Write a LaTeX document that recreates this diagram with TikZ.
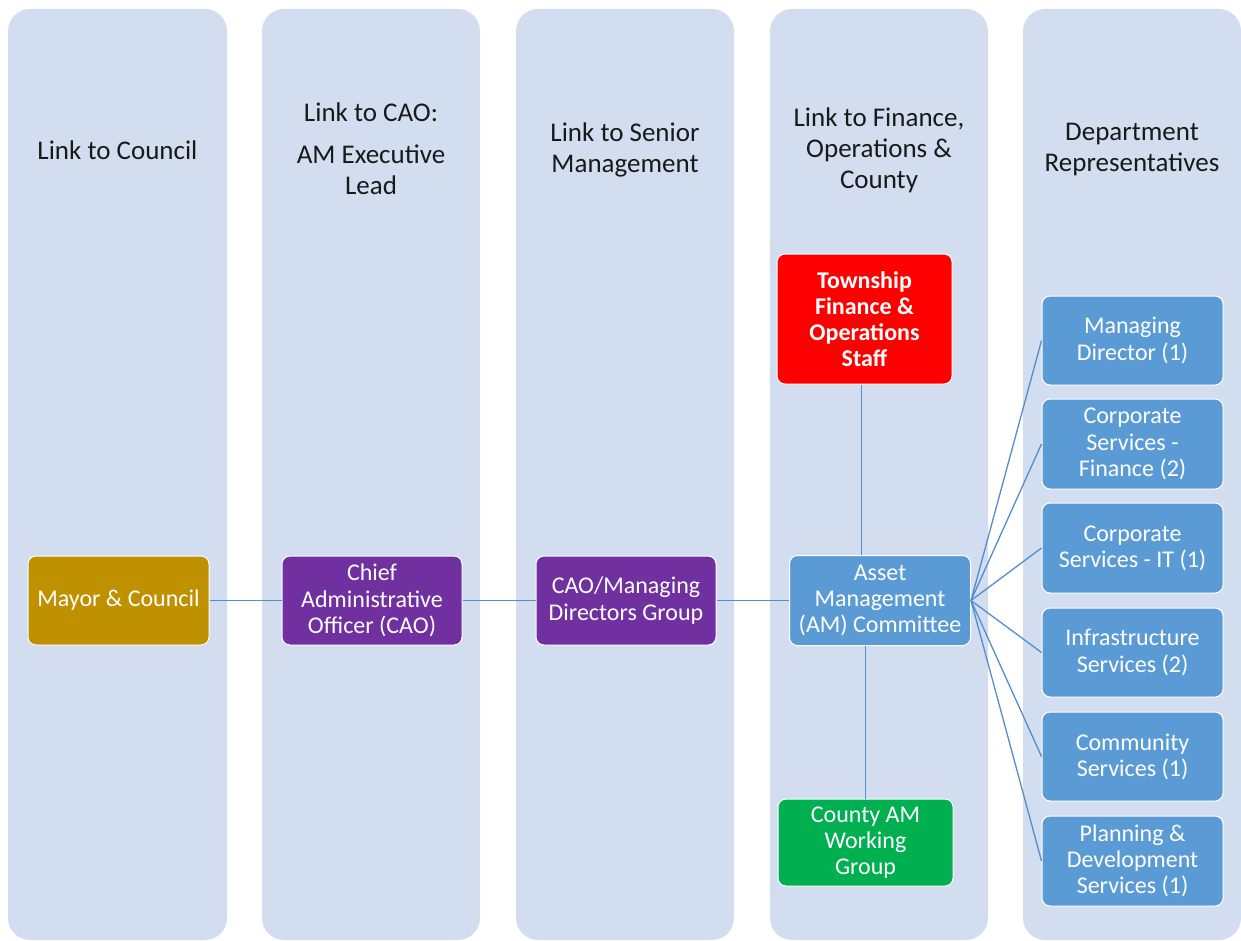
\documentclass[tikz,border=0pt]{standalone}
\usepackage{fontspec}
\setmainfont{Carlito}
\definecolor{colbg}{RGB}{210,222,239}
\definecolor{gold}{RGB}{191,144,0}
\definecolor{purp}{RGB}{112,48,160}
\definecolor{redbox}{RGB}{255,0,0}
\definecolor{greenbox}{RGB}{0,176,80}
\definecolor{bluebox}{RGB}{91,155,213}
\definecolor{linkc}{RGB}{84,141,204}
\definecolor{headtxt}{RGB}{25,25,25}
\begin{document}
\begin{tikzpicture}[x=1pt,y=-1pt,
  column/.style={fill=colbg,draw=none,rounded corners=22pt},
  head/.style={align=center,text=headtxt,font=\fontsize{27}{31}\selectfont,inner sep=0pt},
  box/.style={draw=white,line width=1pt,rounded corners=8pt,text=white,align=center,
    inner sep=0pt,font=\fontsize{24}{26.2}\selectfont},
  link/.style={draw=linkc,line width=1.3pt}]
\useasboundingbox (0,0) rectangle (1241,941);
% columns
\fill[column] (8,9) rectangle (227,940);
\fill[column] (262,9) rectangle (480,940);
\fill[column] (516,9) rectangle (734,940);
\fill[column] (770,9) rectangle (988,940);
\fill[column] (1023,9) rectangle (1241,940);
% headers
\node[head] (h1) at (117.5,150) {Link to Council};
\node[head] (h2) at (371,148.5) {Link to CAO:\\[11pt]AM Executive\\Lead};
\node[head] (h3) at (625,150) {Link to Senior\\Management};
\node[head] (h4) at (879,150) {Link to Finance,\\Operations \&\\County};
\node[head] (h5) at (1132,150) {Department\\Representatives};
% boxes
\node[box,fill=gold,minimum width=181pt,minimum height=89pt] (mc) at (118.5,600.5) {Mayor \& Council};
\node[box,fill=purp,minimum width=180pt,minimum height=89pt] (cao) at (372,600.5) {Chief\\Administrative\\Officer (CAO)};
\node[box,fill=purp,minimum width=180pt,minimum height=89pt] (mdg) at (626,600.5) {CAO/Managing\\Directors Group};
\node[box,fill=bluebox,minimum width=181pt,minimum height=90pt] (am) at (880,600.5) {Asset\\Management\\(AM) Committee};
\node[box,fill=redbox,minimum width=175pt,minimum height=130pt,font=\bfseries\fontsize{24}{26.2}\selectfont] (tfo) at (864.5,319) {Township\\Finance \&\\Operations\\Staff};
\node[box,fill=greenbox,minimum width=175pt,minimum height=87pt] (cty) at (865.5,842.5) {County AM\\Working\\Group};
\node[box,fill=bluebox,minimum width=181pt,minimum height=89pt] (md) at (1132.5,340.5) {Managing\\Director (1)};
\node[box,fill=bluebox,minimum width=181pt,minimum height=90pt] (csf) at (1132.5,444) {Corporate\\Services -\\Finance (2)};
\node[box,fill=bluebox,minimum width=181pt,minimum height=90pt] (csit) at (1132.5,548) {Corporate\\Services - IT (1)};
\node[box,fill=bluebox,minimum width=181pt,minimum height=89pt] (inf) at (1132.5,652.5) {Infrastructure\\Services (2)};
\node[box,fill=bluebox,minimum width=181pt,minimum height=89pt] (com) at (1132.5,756.5) {Community\\Services (1)};
\node[box,fill=bluebox,minimum width=181pt,minimum height=90pt] (pds) at (1132.5,861) {Planning \&\\Development\\Services (1)};
% connectors
\draw[link] (mc) -- (cao);
\draw[link] (cao) -- (mdg);
\draw[link] (mdg) -- (am);
\draw[link] ([xshift=-3pt]tfo.south) -- ([xshift=-3pt]tfo.south |- am.north);
\draw[link] (cty.north) -- (cty.north |- am.south);
\foreach \t in {md,csf,csit,inf,com,pds}
  \draw[link] (am.east) -- (\t.west);
\end{tikzpicture}
\end{document}
